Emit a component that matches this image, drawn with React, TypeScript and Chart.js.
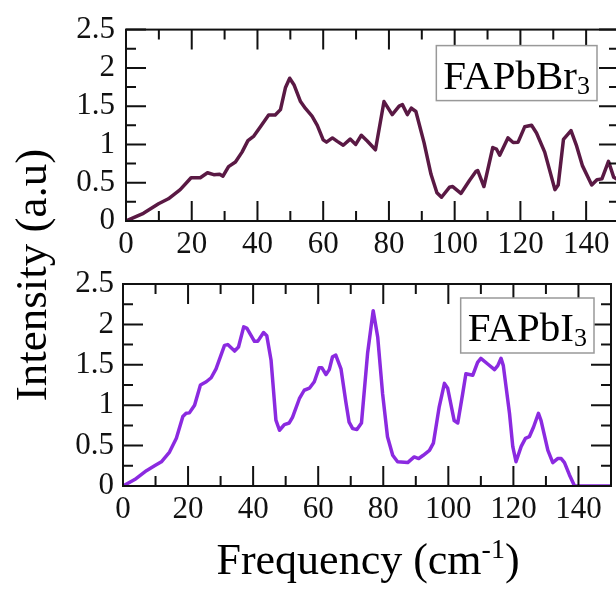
import React, { useEffect, useRef } from 'react';
import { Chart, registerables } from 'chart.js';

Chart.register(...registerables);

// ---- Data ----
const freqBr = [0, 5.3, 9.9, 12.9, 16.5, 19.8, 22.6, 24.8, 26.7, 28.5, 29.5, 31.2, 33.3, 35.3, 37.1, 38.9, 40.9, 43.4, 45.4, 47, 48.5, 49.8, 51.1, 53.1, 54.6, 56.6, 58.2, 60, 61, 62.8, 64.3, 66.1, 68.2, 69.9, 71.6, 73.4, 75.9, 78.5, 81, 83.1, 84.1, 85.6, 86.8, 88.2, 90.7, 92.8, 94.6, 96, 98.4, 99.4, 101.9, 104.5, 106.5, 107, 108.9, 111.6, 112.7, 113.7, 116.2, 117.8, 119.3, 121.3, 123.4, 124.9, 127.4, 130.5, 131.5, 133.1, 135.4, 137.1, 138.9, 141.7, 143.3, 144.8, 146.8, 148.4, 150];
const intensityBr = [0, 0.1, 0.225, 0.29, 0.41, 0.565, 0.565, 0.63, 0.605, 0.61, 0.585, 0.71, 0.77, 0.9, 1.05, 1.11, 1.23, 1.385, 1.385, 1.455, 1.74, 1.865, 1.78, 1.56, 1.47, 1.37, 1.25, 1.06, 1.03, 1.085, 1.04, 0.99, 1.07, 1.0, 1.12, 1.045, 0.93, 1.56, 1.39, 1.5, 1.52, 1.39, 1.475, 1.43, 1.02, 0.61, 0.37, 0.31, 0.44, 0.45, 0.36, 0.53, 0.65, 0.66, 0.45, 0.96, 0.94, 0.86, 1.085, 1.025, 1.03, 1.23, 1.25, 1.15, 0.9, 0.41, 0.47, 1.065, 1.18, 0.98, 0.72, 0.47, 0.54, 0.55, 0.78, 0.57, 0.53];

const freqI = [0, 3.6, 7.2, 9.7, 11.8, 14.3, 16.4, 18.4, 19.4, 20.4, 22, 23.8, 25.6, 27.1, 28.6, 31.2, 32.2, 34.3, 35.5, 37.1, 38.1, 40.4, 41.4, 43.2, 44.2, 45.5, 47, 48.1, 49.6, 51.1, 52.1, 54.2, 55.7, 57.3, 58.8, 60.3, 61.1, 62.4, 63.4, 64.4, 65.4, 67, 68.5, 69.5, 70.6, 71.9, 73.3, 75.2, 76.9, 78.3, 79.8, 81.3, 82.9, 84.4, 87.5, 89.5, 90.9, 92.3, 94.2, 95.4, 97.2, 98.8, 99.8, 101.8, 102.9, 104.4, 105.4, 107.5, 109, 110, 112.1, 114.2, 115.2, 116.2, 116.9, 118.8, 119.8, 120.8, 122.4, 123.7, 124.9, 126.2, 127.7, 128.5, 130.6, 132.1, 133.6, 134.7, 135.7, 137.2, 138.8, 150];
const intensityI = [0, 0.08, 0.19, 0.25, 0.3, 0.42, 0.59, 0.86, 0.9, 0.905, 1.0, 1.25, 1.29, 1.34, 1.45, 1.74, 1.75, 1.67, 1.72, 1.97, 1.95, 1.79, 1.79, 1.9, 1.86, 1.56, 0.815, 0.69, 0.76, 0.78, 0.85, 1.08, 1.185, 1.21, 1.29, 1.465, 1.465, 1.38, 1.44, 1.6, 1.62, 1.45, 1.04, 0.79, 0.71, 0.7, 0.78, 1.65, 2.17, 1.84, 1.14, 0.61, 0.38, 0.3, 0.29, 0.36, 0.34, 0.38, 0.44, 0.53, 0.98, 1.27, 1.21, 0.81, 0.78, 1.14, 1.39, 1.37, 1.53, 1.58, 1.51, 1.44, 1.49, 1.58, 1.49, 0.9, 0.49, 0.3, 0.49, 0.59, 0.61, 0.73, 0.9, 0.81, 0.44, 0.29, 0.34, 0.34, 0.29, 0.14, 0, 0];

const xTickValues = [0, 20, 40, 60, 80, 100, 120, 140];
const xMinorValues = [10, 30, 50, 70, 90, 110, 130];
const yTickValues = [0, 0.5, 1, 1.5, 2, 2.5];
const yMinorValues = [0.25, 0.75, 1.25, 1.75, 2.25];

const labelBr = 'FAPbBr';
const labelI = 'FAPbI';
const labelSub = '3';
const xTitleMain = 'Frequency (cm';
const xTitleSup = '-1';
const xTitleEnd = ')';
const yTitle = 'Intensity (a.u)';

const FONT = '"Liberation Serif", "Times New Roman", serif';
const f = (size: number) => `${size}px ${FONT}`;

// ---- Plugins ----
const framePlugin = {
  id: 'frame',
  afterDatasetsDraw(chart: any) {
    const { ctx, chartArea: a, scales } = chart;
    const xs = scales.x;
    const ys = scales.y;
    ctx.save();
    ctx.strokeStyle = '#111';
    ctx.lineWidth = 2;
    ctx.strokeRect(a.left, a.top, a.right - a.left, a.bottom - a.top);
    ctx.beginPath();
    const major = 20;
    const minor = 10;
    const xt = (v: number, len: number) => {
      const px = xs.getPixelForValue(v);
      ctx.moveTo(px, a.bottom);
      ctx.lineTo(px, a.bottom - len);
      ctx.moveTo(px, a.top);
      ctx.lineTo(px, a.top + len);
    };
    const yt = (v: number, len: number) => {
      const py = ys.getPixelForValue(v);
      ctx.moveTo(a.left, py);
      ctx.lineTo(a.left + len, py);
      ctx.moveTo(a.right, py);
      ctx.lineTo(a.right - len, py);
    };
    xTickValues.forEach((v) => xt(v, major));
    xMinorValues.forEach((v) => xt(v, minor));
    yTickValues.forEach((v) => yt(v, major));
    yMinorValues.forEach((v) => yt(v, minor));
    ctx.stroke();
    ctx.restore();
  },
};

const panelLabelPlugin = {
  id: 'panelLabel',
  afterDraw(chart: any, _args: any, opts: any) {
    if (!opts || !opts.text) return;
    const { ctx, chartArea: a } = chart;
    ctx.save();
    ctx.font = f(opts.size);
    const wMain = ctx.measureText(opts.text).width;
    ctx.font = f(opts.subSize);
    const wSub = ctx.measureText(opts.sub).width;
    const pad = 7;
    const w = wMain + wSub + pad * 2;
    const h = 55;
    const right = a.right - opts.offsetRight;
    const left = right - w;
    const top = a.top + opts.offsetTop;
    ctx.fillStyle = '#fff';
    ctx.fillRect(left, top, w, h);
    ctx.strokeStyle = '#999';
    ctx.lineWidth = 1.5;
    ctx.strokeRect(left, top, w, h);
    ctx.fillStyle = '#000';
    ctx.textBaseline = 'alphabetic';
    ctx.textAlign = 'left';
    ctx.font = f(opts.size);
    ctx.fillText(opts.text, left + pad, top + 43);
    ctx.font = f(opts.subSize);
    ctx.fillText(opts.sub, left + pad + wMain, top + 48);
    ctx.restore();
  },
};

const titlesPlugin = {
  id: 'sharedTitles',
  afterDraw(chart: any, _args: any, opts: any) {
    if (!opts || !opts.enabled) return;
    const { ctx } = chart;
    ctx.save();
    ctx.fillStyle = '#000';
    ctx.textBaseline = 'alphabetic';
    // y title
    ctx.font = f(45);
    ctx.translate(46, 275);
    ctx.rotate(-Math.PI / 2);
    ctx.textAlign = 'center';
    ctx.fillText(yTitle, 0, 0);
    ctx.setTransform(1, 0, 0, 1, 0, 0);
    // x title with superscript
    ctx.textAlign = 'left';
    ctx.font = f(44);
    const w1 = ctx.measureText(xTitleMain).width;
    const w3 = ctx.measureText(xTitleEnd).width;
    ctx.font = f(28);
    const w2 = ctx.measureText(xTitleSup).width;
    const total = w1 + w2 + w3;
    const x0 = 368 - total / 2;
    const base = 574;
    ctx.font = f(44);
    ctx.fillText(xTitleMain, x0, base);
    ctx.font = f(28);
    ctx.fillText(xTitleSup, x0 + w1, base - 16);
    ctx.font = f(44);
    ctx.fillText(xTitleEnd, x0 + w1 + w2, base);
    ctx.restore();
  },
};

function makeConfig(p: any): any {
  const tickFont = { family: FONT, size: 31 };
  return {
    type: 'line',
    data: {
      datasets: [
        {
          data: p.freq.map((x: number, i: number) => ({ x, y: p.intensity[i] })),
          borderColor: p.color,
          borderWidth: 3.5,
          pointRadius: 0,
          tension: 0,
          fill: false,
          borderJoinStyle: 'round',
          borderCapStyle: 'round',
        },
      ],
    },
    options: {
      responsive: false,
      animation: false,
      devicePixelRatio: 1,
      layout: { autoPadding: false, padding: p.padding },
      plugins: {
        legend: { display: false },
        title: { display: false },
        tooltip: { enabled: false },
        panelLabel: p.label,
        sharedTitles: { enabled: !!p.titles },
      },
      scales: {
        x: {
          type: 'linear',
          min: 0,
          max: 150,
          afterBuildTicks: (s: any) => {
            s.ticks = xTickValues.map((v) => ({ value: v }));
          },
          afterFit: (s: any) => {
            s.height = p.xHeight;
          },
          ticks: {
            font: tickFont,
            color: '#111',
            padding: 5,
            maxRotation: 0,
            autoSkip: false,
            callback: (v: any) => String(v),
          },
          grid: { display: false, drawTicks: false },
          border: { display: false },
        },
        y: {
          type: 'linear',
          min: 0,
          max: 2.5,
          afterBuildTicks: (s: any) => {
            s.ticks = yTickValues.map((v) => ({ value: v }));
          },
          afterFit: (s: any) => {
            s.width = p.yWidth;
          },
          ticks: {
            font: tickFont,
            color: '#111',
            padding: p.yPad,
            autoSkip: false,
            callback: (v: any) => String(v),
          },
          grid: { display: false, drawTicks: false },
          border: { display: false },
        },
      },
    },
    plugins: [framePlugin, panelLabelPlugin, titlesPlugin],
  };
}

export default function App() {
  const topRef = useRef<HTMLCanvasElement>(null);
  const botRef = useRef<HTMLCanvasElement>(null);

  useEffect(() => {
    const top = new Chart(
      topRef.current as HTMLCanvasElement,
      makeConfig({
        freq: freqBr,
        intensity: intensityBr,
        color: '#5a1944',
        padding: { top: 18, right: 7, bottom: 0, left: 0 },
        yWidth: 126,
        xHeight: 41,
        yPad: 11,
        label: { text: labelBr, sub: labelSub, size: 41, subSize: 26, offsetRight: 22, offsetTop: 16 },
        titles: false,
      })
    );
    const bottom = new Chart(
      botRef.current as HTMLCanvasElement,
      makeConfig({
        freq: freqI,
        intensity: intensityI,
        color: '#8b2ae0',
        padding: { top: 284, right: 5, bottom: 0, left: 0 },
        yWidth: 123,
        xHeight: 110,
        yPad: 9,
        label: { text: labelI, sub: labelSub, size: 41, subSize: 26, offsetRight: 17, offsetTop: 14 },
        titles: true,
      })
    );
    return () => {
      top.destroy();
      bottom.destroy();
    };
  }, []);

  return (
    <div
      style={{
        position: 'fixed',
        left: 0,
        top: 0,
        width: 616,
        height: 596,
        overflow: 'hidden',
        background: '#fff',
      }}
    >
      <canvas ref={botRef} width={616} height={596} style={{ position: 'absolute', left: 0, top: 0 }} />
      <canvas ref={topRef} width={626} height={262} style={{ position: 'absolute', left: 0, top: 0 }} />
    </div>
  );
}
